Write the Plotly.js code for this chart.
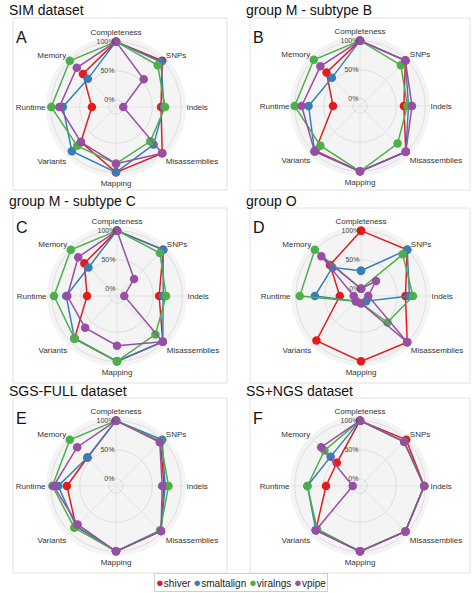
<html><head>
<meta charset="utf-8"/>
<title>Pipeline radar charts</title>
<script src="https://cdn.plot.ly/plotly-3.0.1.min.js"></script>
<style>
  * { margin: 0px; padding: 0px }
  body { background: #fff }
  #chart { width: 474px; height: 593px }
</style>
</head><body>
<div id="chart"></div>
<script>
// axes, clockwise from the top
var categories = ['Completeness', 'SNPs', 'Indels', 'Misassemblies', 'Mapping', 'Variants', 'Runtime', 'Memory'];
var tools = ['shiver', 'smaltalign', 'viralngs', 'vpipe'];
var radialTicks = [0, 50, 100];

// values in %, read per panel and tool
var simShiver      = [100, 100, 65, 100, 100, 73, 29, 68];
var simSmaltalign  = [100, 97, 70, 79, 100, 95, 79, 56];
var simViralngs    = [100, 89, 72, 71, 85, 82, 99, 100];
var simVpipe       = [100, 55, 0, 100, 85, 73, 85, 83];

var mbShiver       = [100, 98, 63, 99, 100, 96, 34, 69];
var mbSmaltalign   = [100, 98, 71, 99, 100, 98, 76, 56];
var mbViralngs     = [100, 87, 69, 79, 100, 84, 100, 100];
var mbVpipe        = [100, 98, 77, 99, 100, 98, 88, 84];

var mcShiver       = [100, 100, 60, 99, 100, 91, 39, 67];
var mcSmaltalign   = [100, 100, 67, 99, 100, 91, 75, 57];
var mcViralngs     = [100, 92, 72, 81, 100, 91, 96, 100];
var mcVpipe        = [100, 29, 0, 99, 73, 65, 73, 82];

var goShiver       = [100, 100, 64, 100, 100, 96, 24, 63];
var goSmaltalign   = [31, 100, 71, 0, 0, 0, 67, 57];
var goViralngs     = [0, 89, 77, 52, 0, 0, 93, 100];
var goVpipe        = [0, 24, 0, 100, 0, 0, 0, 84];

var sgsShiver      = [100, 96, 70, 97, 100, 85, 72, 57];
var sgsSmaltalign  = [100, 100, 72, 97, 100, 85, 87, 57];
var sgsViralngs    = [100, 96, 78, 95, 100, 89, 97, 100];
var sgsVpipe       = [100, 94, 67, 97, 100, 81, 95, 82];

var ssShiver       = [100, 100, 98, 98, 100, 95, 46, 44];
var ssSmaltalign   = [100, 95, 98, 98, 100, 95, 78, 59];
var ssViralngs     = [100, 95, 98, 98, 100, 92, 78, 74];
var ssVpipe        = [100, 95, 98, 98, 100, 95, 0, 82];

var colors = ['#E41A1C', '#377EB8', '#4DAF4A', '#984EA3'];

// panel centre (px), frame box (px), title and letter
var panels = [
  {title: 'SIM dataset',         letter: 'A', cx: 116, cy: 107, box: [13, 18, 227, 190],  ty: 10,  data: [simShiver, simSmaltalign, simViralngs, simVpipe]},
  {title: 'group M - subtype B', letter: 'B', cx: 360, cy: 106, box: [250, 18, 470, 190], ty: 10,  data: [mbShiver, mbSmaltalign, mbViralngs, mbVpipe]},
  {title: 'group M - subtype C', letter: 'C', cx: 117, cy: 296, box: [13, 208, 227, 383], ty: 201, data: [mcShiver, mcSmaltalign, mcViralngs, mcVpipe]},
  {title: 'group O',             letter: 'D', cx: 361, cy: 296, box: [250, 208, 470, 383], ty: 201, data: [goShiver, goSmaltalign, goViralngs, goVpipe]},
  {title: 'SGS-FULL dataset',    letter: 'E', cx: 116, cy: 486, box: [13, 398, 227, 573], ty: 391, data: [sgsShiver, sgsSmaltalign, sgsViralngs, sgsVpipe]},
  {title: 'SS+NGS dataset',      letter: 'F', cx: 360, cy: 486, box: [250, 398, 470, 573], ty: 391, data: [ssShiver, ssSmaltalign, ssViralngs, ssVpipe]}
];

var W = 474, H = 593, R = 70;
var px = function(x){ return x / W; };
var py = function(y){ return 1 - y / H; };

// one spoke per category; counter-clockwise angles so the order runs clockwise on screen
var step = 360 / categories.length;
var spokes = categories.map(function(c, i){ return (360 - i * step) % 360; });
var closedSpokes = spokes.concat([spokes[0]]);

var traces = [];
var layout = {
  width: W, height: H,
  margin: {l: 0, r: 0, t: 0, b: 0},
  paper_bgcolor: '#fff',
  font: {family: 'Liberation Sans, Arial, sans-serif', color: '#222'},
  showlegend: false,
  shapes: [], annotations: []
};

panels.forEach(function(p, i){
  var id = i == 0 ? 'polar' : 'polar' + (i + 1);
  layout[id] = {
    domain: {x: [px(p.cx - R), px(p.cx + R)], y: [py(p.cy + R), py(p.cy - R)]},
    bgcolor: '#f4f4f4',
    radialaxis: {
      range: [-12.5, 108], tickvals: radialTicks, ticktext: radialTicks.map(function(v){ return v + '%'; }),
      angle: 90, tickangle: 90, side: 'counterclockwise',
      showline: false, ticks: '', gridcolor: '#dedede', gridwidth: 1,
      tickfont: {size: 7, color: '#444'}
    },
    angularaxis: {
      type: 'linear', thetaunit: 'degrees', rotation: 90, direction: 'counterclockwise',
      tickmode: 'array', tickvals: spokes, ticktext: categories,
      showline: false, ticks: '', gridcolor: '#e4e4e4',
      tickfont: {size: 8, color: '#333'}
    }
  };
  p.data.forEach(function(vals, k){
    traces.push({
      type: 'scatterpolar', subplot: id, mode: 'lines+markers',
      r: vals.concat([vals[0]]), theta: closedSpokes, name: tools[k],
      line: {color: colors[k], width: 1.5},
      marker: {color: colors[k], size: 8.5},
      cliponaxis: false, hoverinfo: 'skip'
    });
  });
  layout.shapes.push({
    type: 'rect', xref: 'paper', yref: 'paper', layer: 'below',
    x0: px(p.box[0]), x1: px(p.box[2]), y0: py(p.box[3]), y1: py(p.box[1]),
    line: {color: '#e2e2e2', width: 1}, fillcolor: '#fff'
  });
  layout.annotations.push({
    text: p.title, xref: 'paper', yref: 'paper', x: px(p.box[0] - 6), y: py(p.ty),
    xanchor: 'left', yanchor: 'middle', showarrow: false, font: {size: 14, color: '#111'}
  });
  layout.annotations.push({
    text: p.letter, xref: 'paper', yref: 'paper', x: px(p.box[0] + 1), y: py(p.box[1] + 20),
    xanchor: 'left', yanchor: 'middle', showarrow: false, font: {size: 16, color: '#111'}
  });
});

// compact legend: coloured dots followed by tool names, in a thin box
var legendText = tools.map(function(t, k){
  return '<span style="color:' + colors[k] + ';font-size:13px">\u25CF</span>' + t;
}).join(' ');
layout.annotations.push({
  text: legendText, xref: 'paper', yref: 'paper', x: px(241), y: py(582),
  xanchor: 'center', yanchor: 'middle', showarrow: false,
  font: {size: 10, color: '#222'}, bordercolor: '#cfcfcf', borderwidth: 1, borderpad: 1
});

Plotly.newPlot('chart', traces, layout, {staticPlot: true});
</script>
</body></html>
